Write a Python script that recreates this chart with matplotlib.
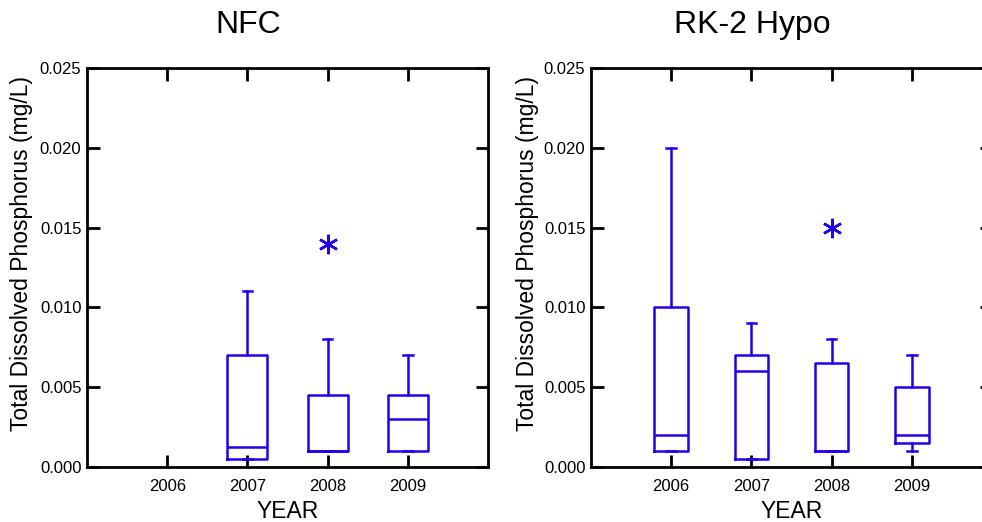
import matplotlib
matplotlib.use('Agg')
import matplotlib.pyplot as plt

plt.rcParams['font.family'] = ['Liberation Sans', 'DejaVu Sans']

blue = '#2200EE'

years = [2006, 2007, 2008, 2009]

# NFC (no data in 2006)
nfc_years = [2007, 2008, 2009]
nfc_whislo = [0.0005, 0.001, 0.001]
nfc_q1 = [0.0005, 0.001, 0.001]
nfc_med = [0.00125, 0.001, 0.003]
nfc_q3 = [0.007, 0.0045, 0.0045]
nfc_whishi = [0.011, 0.008, 0.007]
nfc_fliers = [[], [0.014], []]

# RK-2 Hypo
rk_years = [2006, 2007, 2008, 2009]
rk_whislo = [0.001, 0.0005, 0.001, 0.001]
rk_q1 = [0.001, 0.0005, 0.001, 0.0015]
rk_med = [0.002, 0.006, 0.001, 0.002]
rk_q3 = [0.010, 0.007, 0.0065, 0.005]
rk_whishi = [0.020, 0.009, 0.008, 0.007]
rk_fliers = [[], [], [0.015], []]

yticks = [0.000, 0.005, 0.010, 0.015, 0.020, 0.025]


def make_stats(lo, q1, med, q3, hi, fl):
    stats = []
    for i in range(len(med)):
        stats.append({'whislo': lo[i], 'q1': q1[i], 'med': med[i],
                      'q3': q3[i], 'whishi': hi[i], 'fliers': fl[i]})
    return stats


fig = plt.figure(figsize=(9.82, 5.22), dpi=100)
ax1 = fig.add_axes([0.0886, 0.1054, 0.4084, 0.7644])
ax2 = fig.add_axes([0.6018, 0.1054, 0.4084, 0.7644])

panels = [
    (ax1, nfc_years, make_stats(nfc_whislo, nfc_q1, nfc_med, nfc_q3, nfc_whishi, nfc_fliers), 0.5),
    (ax2, rk_years, make_stats(rk_whislo, rk_q1, rk_med, rk_q3, rk_whishi, rk_fliers), 0.42),
]

lw = 1.8
for ax, pos, stats, w in panels:
    ax.bxp(stats, positions=pos, widths=w, showfliers=True, patch_artist=False,
           boxprops=dict(color=blue, linewidth=lw),
           whiskerprops=dict(color=blue, linewidth=lw),
           capprops=dict(color=blue, linewidth=lw),
           medianprops=dict(color=blue, linewidth=lw),
           flierprops=dict(marker=(6, 2, 0), markersize=14, markeredgecolor=blue,
                           markeredgewidth=1.8, linestyle='none'),
           capwidths=0.12)
    ax.set_xlim(2005, 2010)
    ax.set_ylim(0, 0.025)
    ax.set_xticks(years)
    ax.set_xticklabels([str(y) for y in years])
    ax.set_yticks(yticks)
    ax.set_yticklabels(['%.3f' % t for t in yticks])
    ax.tick_params(direction='in', length=9, width=2, top=True, right=True,
                   labelsize=12)
    ax.tick_params(axis='x', pad=9)
    ax.tick_params(axis='y', pad=4)
    for s in ax.spines.values():
        s.set_linewidth(2)
    ax.set_xlabel('YEAR', fontsize=16.5, labelpad=4)

fig.text(0.0224, 0.514, 'Total Dissolved Phosphorus (mg/L)', rotation=90,
         ha='center', va='center', fontsize=16.5)
fig.text(0.5367, 0.514, 'Total Dissolved Phosphorus (mg/L)', rotation=90,
         ha='center', va='center', fontsize=16.5)

fig.text(0.2525, 0.952, 'NFC', ha='center', va='center', fontsize=23)
fig.text(0.766, 0.952, 'RK-2 Hypo', ha='center', va='center', fontsize=23)

fig.savefig('out.png', dpi=100)
